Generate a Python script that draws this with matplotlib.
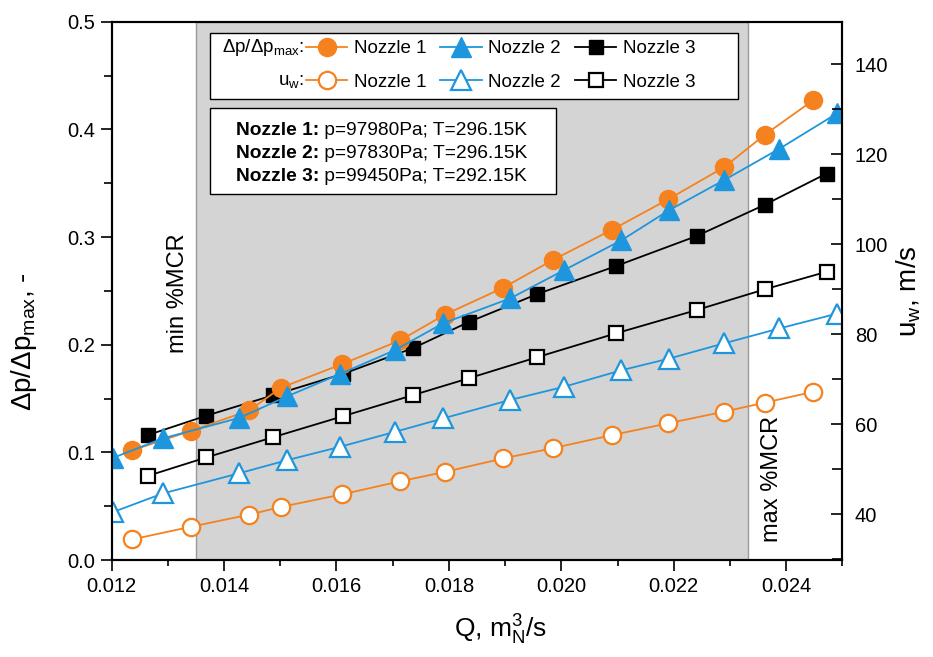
import matplotlib.pyplot as plt
from matplotlib.patches import Rectangle
from matplotlib.ticker import MultipleLocator, FormatStrFormatter

plt.rcParams['font.family'] = ['Liberation Sans', 'DejaVu Sans']
plt.rcParams['mathtext.fontset'] = 'custom'
plt.rcParams['mathtext.rm'] = 'Liberation Sans'
plt.rcParams['mathtext.it'] = 'Liberation Sans:italic'
plt.rcParams['mathtext.bf'] = 'Liberation Sans:bold'

# Nozzle 1
q1 = [0.01237, 0.01341, 0.01445, 0.01501, 0.01610, 0.01713, 0.01793,
      0.01897, 0.01986, 0.02091, 0.02190, 0.02290, 0.02362, 0.02448]
dp1 = [0.102, 0.120, 0.139, 0.160, 0.182, 0.204, 0.228,
       0.253, 0.279, 0.307, 0.335, 0.365, 0.395, 0.427]
uw1 = [34.4, 37.2, 39.9, 41.6, 44.4, 47.3, 49.4,
       52.4, 54.7, 57.6, 60.2, 62.8, 64.8, 67.2]

# Nozzle 2
q2 = [0.01203, 0.01291, 0.01427, 0.01512, 0.01607, 0.01704, 0.01790,
      0.01909, 0.02004, 0.02107, 0.02192, 0.02290, 0.02388, 0.02491]
dp2 = [0.095, 0.113, 0.132, 0.152, 0.173, 0.195, 0.220,
       0.243, 0.269, 0.297, 0.325, 0.353, 0.382, 0.415]
uw2 = [40.5, 44.6, 49.1, 52.0, 55.0, 58.3, 61.3,
       65.4, 68.3, 72.0, 74.6, 78.0, 81.3, 84.6]

# Nozzle 3
q3 = [0.01264, 0.01368, 0.01487, 0.01612, 0.01737, 0.01835,
      0.01957, 0.02097, 0.02241, 0.02362, 0.02472]
dp3 = [0.116, 0.134, 0.153, 0.173, 0.197, 0.221,
       0.247, 0.273, 0.301, 0.330, 0.359]
uw3 = [48.5, 52.6, 57.1, 61.8, 66.5, 70.2,
       74.9, 80.2, 85.4, 90.0, 93.9]

mcr_min, mcr_max = 0.0135, 0.02333
conditions = [('Nozzle 1:', ' p=97980Pa; T=296.15K'),
              ('Nozzle 2:', ' p=97830Pa; T=296.15K'),
              ('Nozzle 3:', ' p=99450Pa; T=292.15K')]

orange = '#F5821F'
blue = '#1E96DE'

fig = plt.figure(figsize=(9.33, 6.57), dpi=100)
ax = fig.add_axes([0.1197, 0.1476, 0.7831, 0.8193])
ax2 = ax.twinx()

ax.axvspan(mcr_min, mcr_max, facecolor='#d4d4d4', edgecolor='#9a9a9a', lw=1, zorder=0)

l3, = ax.plot(q3, dp3, color='black', marker='s', ms=10, lw=1.3, label='Nozzle 3', zorder=3)
l1, = ax.plot(q1, dp1, color=orange, marker='o', ms=13, lw=1.3, label='Nozzle 1', zorder=4)
l2, = ax.plot(q2, dp2, color=blue, marker='^', ms=14, lw=1.3, label='Nozzle 2', zorder=5)

o3, = ax2.plot(q3, uw3, color='black', marker='s', ms=10, mfc='white', mew=1.6, lw=1.3, label='Nozzle 3')
o1, = ax2.plot(q1, uw1, color=orange, marker='o', ms=12.5, mfc='white', mew=1.6, lw=1.3, label='Nozzle 1')
o2, = ax2.plot(q2, uw2, color=blue, marker='^', ms=14, mfc='white', mew=1.6, lw=1.3, label='Nozzle 2')

ax.set_xlim(0.012, 0.025)
ax.set_ylim(0.0, 0.5)
ax2.set_ylim(29.8, 149.5)

ax.xaxis.set_major_locator(MultipleLocator(0.002))
ax.xaxis.set_minor_locator(MultipleLocator(0.001))
ax.xaxis.set_major_formatter(FormatStrFormatter('%.3f'))
ax.yaxis.set_major_locator(MultipleLocator(0.1))
ax.yaxis.set_minor_locator(MultipleLocator(0.05))
ax.yaxis.set_major_formatter(FormatStrFormatter('%.1f'))
ax2.yaxis.set_major_locator(MultipleLocator(20))
ax2.yaxis.set_minor_locator(MultipleLocator(10))

ax.tick_params(axis='x', which='major', direction='out', length=8, width=1.2, labelsize=14.5, pad=4, top=False)
ax.tick_params(axis='x', which='minor', direction='out', length=4.5, width=1.2, top=False)
ax.tick_params(axis='y', which='major', direction='out', length=8, width=1.2, labelsize=14.5, pad=4, right=False)
ax.tick_params(axis='y', which='minor', direction='out', length=6, width=1.2, right=False)
ax2.tick_params(axis='y', which='major', direction='in', length=8, width=1.2, labelsize=14.5, pad=9)
ax2.tick_params(axis='y', which='minor', direction='in', length=7, width=1.2)
for a in (ax, ax2):
    for s in a.spines.values():
        s.set_linewidth(1.5)

ax.set_xlabel('Q, m$^{3}_{\\mathrm{N}}$/s', fontsize=19)
ax.xaxis.set_label_coords(0.5315, -0.098)
ax.set_ylabel('Δp/Δp$_{\\mathrm{max}}$, -', fontsize=20)
ax.yaxis.set_label_coords(-0.100, 0.405)
ax2.set_ylabel('u$_{\\mathrm{w}}$, m/s', fontsize=20)
ax2.yaxis.set_label_coords(1.071, 0.50)

ax.text(0.01318, 0.248, 'min %MCR', rotation=90, fontsize=17, ha='center', va='center')
ax.text(0.02375, 0.075, 'max %MCR', rotation=90, fontsize=17, ha='center', va='center')

# legend box
ax2.add_patch(Rectangle((0.134, 0.8564), 0.723, 0.1236, transform=ax2.transAxes,
                        facecolor='white', edgecolor='black', lw=1, zorder=10))
leg = ax2.legend([l1, o1, l2, o2, l3, o3], ['Nozzle 1'] * 2 + ['Nozzle 2'] * 2 + ['Nozzle 3'] * 2,
                 ncol=3, frameon=False, loc='upper left', bbox_to_anchor=(0.266, 0.966),
                 borderaxespad=0, borderpad=0, handlelength=2.2, handletextpad=0.35,
                 columnspacing=0.75, labelspacing=0.88, fontsize=13.5, numpoints=1)
leg.set_zorder(11)
ax2.text(0.2632, 0.9524, 'Δp/Δp$_{\\mathrm{max}}$:', transform=ax2.transAxes, fontsize=13.5,
         ha='right', va='center', zorder=12)
ax2.text(0.2632, 0.8885, 'u$_{\\mathrm{w}}$:', transform=ax2.transAxes, fontsize=13.5,
         ha='right', va='center', zorder=12)

# conditions box
ax2.add_patch(Rectangle((0.134, 0.6799), 0.4742, 0.1598, transform=ax2.transAxes,
                        facecolor='white', edgecolor='black', lw=1, zorder=10))
for i, (bold, rest) in enumerate(conditions):
    t = ax2.text(0.170, 0.7988 - i * 0.0427, bold, transform=ax2.transAxes, fontsize=13.8,
                 fontweight='bold', ha='left', va='center', zorder=12)
    ax2.annotate(rest, xy=(1, 0.5), xycoords=t, fontsize=13.8, ha='left', va='center', zorder=12)

fig.savefig('out.png', dpi=100)
